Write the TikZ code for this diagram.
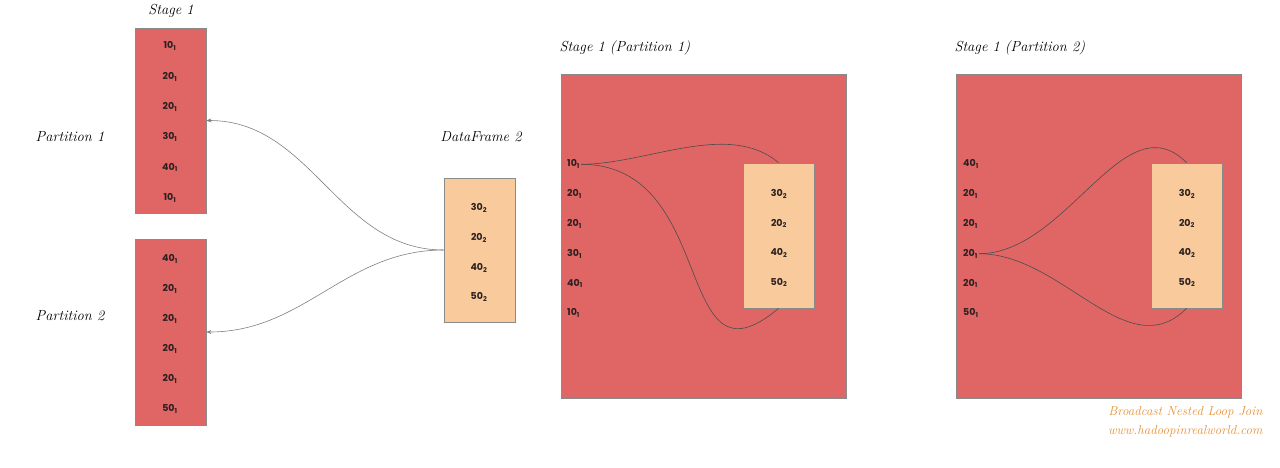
\documentclass[tikz,border=0pt]{standalone}
\usepackage{fontspec}
\usepackage{tikz}
\usetikzlibrary{arrows.meta,positioning}
\newfontfamily\valfont{Poppins}
\definecolor{partred}{HTML}{E06666}
\definecolor{dforange}{HTML}{F9CB9C}
\definecolor{boxline}{HTML}{8A8A8A}
\definecolor{notecol}{HTML}{E69138}
\definecolor{valtext}{HTML}{2B2020}
\newcommand{\vv}[2]{#1\textsubscript{#2}}

\begin{document}
\begin{tikzpicture}[
  x=1pt, y=-1pt,
  >={Stealth[length=5pt,width=4pt]},
  partbox/.style={
    draw=boxline,
    fill=partred,
    line width=0.8pt,
    minimum width=71pt,
    inner sep=0pt
  },
  dfbox/.style={partbox, fill=dforange},
  val/.style={font=\valfont\bfseries\fontsize{9.5}{11}\selectfont, text=valtext, inner sep=1pt},
  leftval/.style={val, anchor=west},
  title/.style={font=\itshape\fontsize{14.5}{17}\selectfont},
  note/.style={font=\itshape\fontsize{13}{15}\selectfont, text=notecol, anchor=east},
  edge/.style={->, draw=gray, line width=0.6pt},
  joinline/.style={draw=black!70, line width=0.6pt}
]
  \useasboundingbox (0,0) rectangle (1280,468);

  % left side: stage 1 partitions and dataframe 2
  \node[partbox, minimum height=185pt] (pone) at (170.5,120.5) {};
  \node[partbox, minimum height=186pt] (ptwo) at (170.5,332) {};
  \node[dfbox, minimum height=144pt] (dfb) at (479.5,250) {};

  \node[title] (stagetitle) at (171,11) {Stage 1};
  \node[title] (ponelabel) at (70,137) {Partition 1};
  \node[title] (ptwolabel) at (70,316) {Partition 2};
  \node[title] (dftitle) at (481,137) {DataFrame 2};

  \foreach \v [count=\i] in {10,20,20,30,40,10}
    \node[val] (pa\i) at (170,{16+30.3*\i}) {\vv{\v}{1}};
  \foreach \v [count=\i] in {40,20,20,20,20,50}
    \node[val] (pb\i) at (170,{229+30*\i}) {\vv{\v}{1}};
  \foreach \v [count=\i] in {30,20,40,50}
    \node[val] (dv\i) at (479,{178.5+29.7*\i}) {\vv{\v}{2}};

  \draw[edge] (dfb.west) to[out=180,in=0] (pone.east);
  \draw[edge] (dfb.west) to[out=180,in=0] (ptwo.east);

  % stage 1 (partition 1)
  \node[title, anchor=west] (sonetitle) at (556,48) {Stage 1 (Partition 1)};
  \node[partbox, minimum width=285pt, minimum height=324pt] (sone) at (703.5,236) {};
  \node[dfbox, minimum height=145pt] (ione) at (778.5,235.5) {};
  \foreach \v [count=\i] in {10,20,20,30,40,10}
    \node[leftval] (sa\i) at (566,{134.5+29.8*\i}) {\vv{\v}{1}};
  \foreach \v [count=\i] in {30,20,40,50}
    \node[val] (ia\i) at (779,{164.5+29.5*\i}) {\vv{\v}{2}};

  \draw[joinline] (sa1.east) to[out=0,in=140,looseness=0.85] (ione.north);
  \draw[joinline] (sa1.east) to[out=0,in=-140,looseness=1.45] (ione.south);

  % stage 1 (partition 2)
  \node[title, anchor=west] (stwotitle) at (951,48) {Stage 1 (Partition 2)};
  \node[partbox, minimum width=285pt, minimum height=324pt] (stwo) at (1098.5,236) {};
  \node[dfbox, minimum height=145pt] (itwo) at (1186.5,235.5) {};
  \foreach \v [count=\i] in {40,20,20,20,20,50}
    \node[leftval] (sb\i) at (962,{134.5+29.8*\i}) {\vv{\v}{1}};
  \foreach \v [count=\i] in {30,20,40,50}
    \node[val] (ib\i) at (1187,{164.5+29.5*\i}) {\vv{\v}{2}};

  \draw[joinline] (sb4.east) to[out=0,in=135,looseness=1] (itwo.north);
  \draw[joinline] (sb4.east) to[out=0,in=-135,looseness=1] (itwo.south);

  \node[note] (notea) at (1266,412) {Broadcast Nested Loop Join};
  \node[note] (noteb) at (1266,431) {www.hadoopinrealworld.com};
\end{tikzpicture}
\end{document}
